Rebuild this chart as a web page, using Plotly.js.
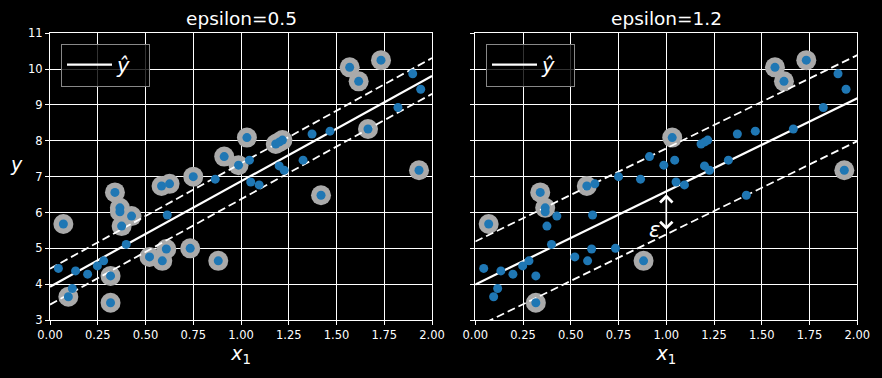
<!DOCTYPE html>
<html>
<head>
<meta charset="utf-8">
<script src="https://cdn.plot.ly/plotly-3.0.1.min.js"></script>
<style>html,body{margin:0;padding:0;background:#000;}#chart{width:882px;height:378px;}</style>
</head>
<body>
<div id="chart"></div>
<script>
// ---- data ----
const X = [0.044,0.070,0.096,0.117,0.134,0.197,0.248,0.281,0.317,0.317,
           0.340,0.366,0.366,0.375,0.427,0.399,0.521,0.584,0.626,0.588,
           0.609,0.614,0.734,0.750,0.865,0.881,0.912,0.987,1.031,1.044,
           1.051,1.095,1.182,1.202,1.217,1.200,1.226,1.325,1.372,1.419,
           1.466,1.569,1.616,1.665,1.733,1.822,1.899,1.941,1.932,1.890];
const Y = [4.44,5.68,3.65,3.88,4.37,4.28,4.51,4.65,4.23,3.48,
           6.56,6.13,6.02,5.62,5.90,5.11,4.76,6.74,6.80,4.65,
           4.98,5.93,5.00,7.00,6.93,4.65,7.56,7.32,8.09,7.46,
           6.85,6.77,7.91,7.97,8.02,7.30,7.18,7.46,8.19,6.48,
           8.27,10.05,9.66,8.33,10.25,8.93,9.87,9.44,7.18,11.30];
// indices of points highlighted (off-margin) in each panel
const svLeft  = [1,2,8,9,10,11,12,13,14,16,17,18,19,20,22,23,25,26,27,28,32,33,34,39,41,42,43,44,48,49];
const svRight = [1,9,10,11,17,25,28,41,42,44,48,49];
// model lines (prediction, +eps, -eps) at x = 0 and x = 2
const lineX = [0, 2];
const predLeft  = [3.93, 9.81], upLeft  = [4.43, 10.31], loLeft  = [3.43, 9.31];
const predRight = [3.99, 9.19], upRight = [5.19, 10.39], loRight = [2.79, 7.99];
const titles = ["epsilon=0.5", "epsilon=1.2"];
const xTicks = [0, 0.25, 0.5, 0.75, 1, 1.25, 1.5, 1.75, 2];
const yTicks = [3,4,5,6,7,8,9,10,11];
const epsArrow = {x: 1.0, top: 6.59, bottom: 5.39};

const BLUE = '#1f77b4', GRAY = '#aaaaaa', FONT = 'DejaVu Sans';

function panel(xa, ya, sv, pred, up, lo, legendName) {
  return [
    {x: sv.map(i => X[i]), y: sv.map(i => Y[i]), xaxis: xa, yaxis: ya, type: 'scatter', mode: 'markers',
     marker: {size: 20, color: GRAY}, showlegend: false, hoverinfo: 'skip'},
    {x: lineX, y: up, xaxis: xa, yaxis: ya, mode: 'lines', line: {color: '#fff', width: 1.8, dash: '8px,4px'}, showlegend: false},
    {x: lineX, y: lo, xaxis: xa, yaxis: ya, mode: 'lines', line: {color: '#fff', width: 1.8, dash: '8px,4px'}, showlegend: false},
    {x: lineX, y: pred, xaxis: xa, yaxis: ya, mode: 'lines', line: {color: '#fff', width: 2.2},
     name: '<i>ŷ</i>  ', showlegend: true, legend: legendName},
    {x: X, y: Y, xaxis: xa, yaxis: ya, type: 'scatter', mode: 'markers',
     marker: {size: 9, color: BLUE}, showlegend: false}
  ];
}

const data = [].concat(
  panel('x', 'y', svLeft, predLeft, upLeft, loLeft, 'legend'),
  panel('x2', 'y2', svRight, predRight, upRight, loRight, 'legend2')
);

const yDom = [(378-320)/378, (378-33.3)/378];
function xaxis(dom, anchor) {
  return {domain: dom, anchor: anchor, range: [0, 2], tickvals: xTicks, tickformat: '.2f',
    showgrid: true, gridcolor: '#fff', gridwidth: 1, zeroline: false,
    showline: true, linecolor: '#fff', linewidth: 1, mirror: true,
    ticks: 'outside', ticklen: 4, tickcolor: '#fff',
    tickfont: {family: FONT, size: 11.5, color: '#fff'},
    title: {text: '<i>x</i><sub>1</sub>', font: {family: FONT, size: 19, color: '#fff'}, standoff: 4}};
}
function yaxis(anchor, labels) {
  return {domain: yDom, anchor: anchor, range: [3, 11], tickvals: yTicks,
    showgrid: true, gridcolor: '#fff', gridwidth: 1, zeroline: false,
    showline: true, linecolor: '#fff', linewidth: 1, mirror: true,
    ticks: 'outside', ticklen: 4, tickcolor: '#fff', showticklabels: labels,
    tickfont: {family: FONT, size: 11.5, color: '#fff'}};
}

const legendBase = {yanchor: 'top', xanchor: 'left', bgcolor: 'rgba(0,0,0,0.8)', bordercolor: '#888',
  borderwidth: 1, font: {family: FONT, size: 21, color: '#fff'}, itemwidth: 45};

const layout = {
  width: 882, height: 378,
  paper_bgcolor: '#000', plot_bgcolor: '#000',
  margin: {l: 0, r: 0, t: 0, b: 0},
  showlegend: true,
  xaxis: xaxis([50/882, 432/882], 'y'),
  yaxis: yaxis('x', true),
  xaxis2: xaxis([475.3/882, 857.3/882], 'y2'),
  yaxis2: yaxis('x2', false),
  legend: Object.assign({x: 61/882, y: (378-43.5)/378}, legendBase),
  legend2: Object.assign({x: 486/882, y: (378-43.5)/378}, legendBase),
  annotations: [
    {text: titles[0], xref: 'paper', yref: 'paper', x: 241/882, y: (378-18)/378, xanchor: 'center', yanchor: 'middle',
     showarrow: false, font: {family: FONT, size: 18.5, color: '#fff'}},
    {text: titles[1], xref: 'paper', yref: 'paper', x: 666/882, y: (378-18)/378, xanchor: 'center', yanchor: 'middle',
     showarrow: false, font: {family: FONT, size: 18.5, color: '#fff'}},
    {text: '<i>y</i>', xref: 'paper', yref: 'paper', x: 16/882, y: (378-164)/378, xanchor: 'center', yanchor: 'middle',
     showarrow: false, font: {family: FONT, size: 19, color: '#fff'}},
    {text: '', xref: 'x2', yref: 'y2', x: epsArrow.x, y: epsArrow.top, axref: 'x2', ayref: 'y2',
     ax: epsArrow.x, ay: epsArrow.bottom, showarrow: true, arrowside: 'end+start', arrowhead: 4, startarrowhead: 4,
     arrowsize: 1.5, startarrowsize: 1.5, arrowwidth: 1.6, arrowcolor: '#fff', standoff: 3, startstandoff: 3},
    {text: '<i>ε</i>', xref: 'x2', yref: 'y2', x: 0.937, y: 5.52, xanchor: 'center', yanchor: 'middle',
     showarrow: false, font: {family: FONT, size: 21, color: '#fff'}}
  ]
};

Plotly.newPlot('chart', data, layout, {staticPlot: true});
</script>
</body>
</html>
